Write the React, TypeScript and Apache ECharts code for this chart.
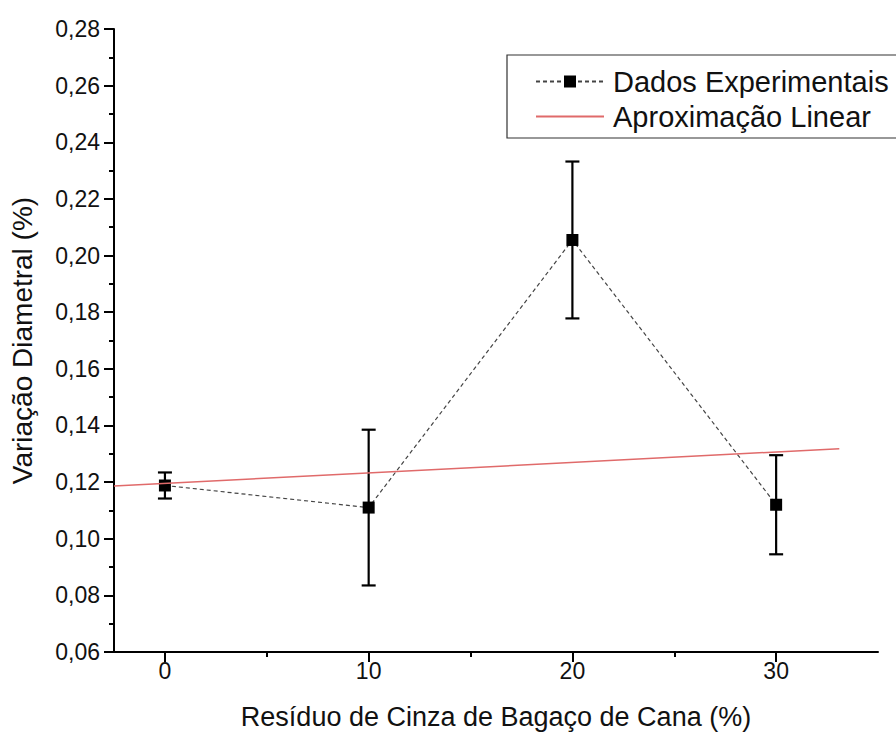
import React, { useEffect, useRef } from "react";
import * as echarts from "echarts";

// ---- data ----
const residuePct = [0, 10, 20, 30];
const diamVariation = [0.1188, 0.111, 0.2055, 0.112];
const diamError = [0.0046, 0.0275, 0.0277, 0.0175];
const fitLineX = [-2.5, 33.1];
const fitLineY = [0.1186, 0.1318];
const xMajorTicks = [0, 10, 20, 30];
const xMinorTicks = [5, 15, 25];

const FONT = "Liberation Sans, Arial, sans-serif";

export default function App() {
  const ref = useRef<HTMLDivElement>(null);
  useEffect(() => {
    document.body.style.margin = "0";
    if (!ref.current) return;
    const chart = echarts.init(ref.current, undefined, { renderer: "svg" });
    const points = residuePct.map((x, i) => [x, diamVariation[i]]);
    const errs = residuePct.map((x, i) => [x, diamVariation[i] - diamError[i], diamVariation[i] + diamError[i]]);
    const fit = fitLineX.map((x, i) => [x, fitLineY[i]]);
    chart.setOption({
      animation: false,
      backgroundColor: "#fff",
      textStyle: { fontFamily: FONT },
      grid: { left: 113, right: 18, top: 29, bottom: 91 },
      legend: {
        orient: "vertical",
        left: 507,
        top: 55,
        padding: [12, 22, 7, 28],
        itemGap: 6,
        itemWidth: 68,
        itemHeight: 15,
        borderColor: "#333",
        borderWidth: 1.2,
        textStyle: { fontSize: 29, color: "#111", fontFamily: FONT, padding: [0, 0, 0, 4] },
        data: [
          { name: "Dados Experimentais" },
          { name: "Aproximação Linear", itemStyle: { opacity: 0 } },
        ],
      },
      xAxis: [
        {
          type: "value",
          min: -2.5,
          max: 35,
          splitLine: { show: false },
          axisLine: { show: true, onZero: false, lineStyle: { color: "#000", width: 2 } },
          axisTick: { show: true, length: 10, lineStyle: { color: "#000", width: 2 }, customValues: xMajorTicks },
          axisLabel: { fontSize: 23, color: "#111", margin: 7, fontFamily: FONT, customValues: xMajorTicks },
          name: "Resíduo de Cinza de Bagaço de Cana (%)",
          nameLocation: "middle",
          nameGap: 51,
          nameTextStyle: { fontSize: 27, color: "#111", fontFamily: FONT },
        },
        {
          type: "value",
          min: -2.5,
          max: 35,
          position: "bottom",
          splitLine: { show: false },
          axisLine: { show: false, onZero: false },
          axisTick: { show: true, length: 5, lineStyle: { color: "#000", width: 2 }, customValues: xMinorTicks },
          axisLabel: { show: false },
        },
      ],
      yAxis: {
        type: "value",
        min: 0.06,
        max: 0.28,
        interval: 0.02,
        splitLine: { show: false },
        axisLine: { show: true, onZero: false, lineStyle: { color: "#000", width: 2 } },
        axisTick: { show: true, length: 10, lineStyle: { color: "#000", width: 2 } },
        minorTick: { show: true, splitNumber: 2, length: 5, lineStyle: { color: "#000", width: 2 } },
        axisLabel: {
          fontSize: 23,
          color: "#111",
          margin: 14,
          fontFamily: FONT,
          formatter: (v: number) => v.toFixed(2).replace(".", ","),
        },
        name: "Variação Diametral (%)",
        nameLocation: "middle",
        nameGap: 78,
        nameTextStyle: { fontSize: 28, color: "#111", fontFamily: FONT },
      },
      series: [
        {
          name: "Aproximação Linear",
          type: "line",
          data: fit,
          showSymbol: false,
          symbol: "none",
          lineStyle: { color: "#e06a6a", width: 1.5 },
          itemStyle: { color: "#e06a6a" },
          z: 6,
        },
        {
          name: "Dados Experimentais",
          type: "line",
          data: points,
          symbol: "rect",
          symbolSize: 12,
          itemStyle: { color: "#000" },
          lineStyle: { color: "#444", width: 1.2, type: [4, 3] },
          z: 4,
        },
        {
          name: "erro",
          type: "custom",
          data: errs,
          z: 5,
          renderItem: (params: any, api: any) => {
            const x = api.value(0);
            const lo = api.coord([x, api.value(1)]);
            const hi = api.coord([x, api.value(2)]);
            const cap = 7;
            const style = { stroke: "#000", lineWidth: 2.2 };
            return {
              type: "group",
              children: [
                { type: "line", shape: { x1: hi[0], y1: hi[1], x2: lo[0], y2: lo[1] }, style },
                { type: "line", shape: { x1: hi[0] - cap, y1: hi[1], x2: hi[0] + cap, y2: hi[1] }, style },
                { type: "line", shape: { x1: lo[0] - cap, y1: lo[1], x2: lo[0] + cap, y2: lo[1] }, style },
              ],
            };
          },
        },
      ],
    });
    return () => chart.dispose();
  }, []);
  return <div ref={ref} style={{ width: 896, height: 743 }} />;
}
